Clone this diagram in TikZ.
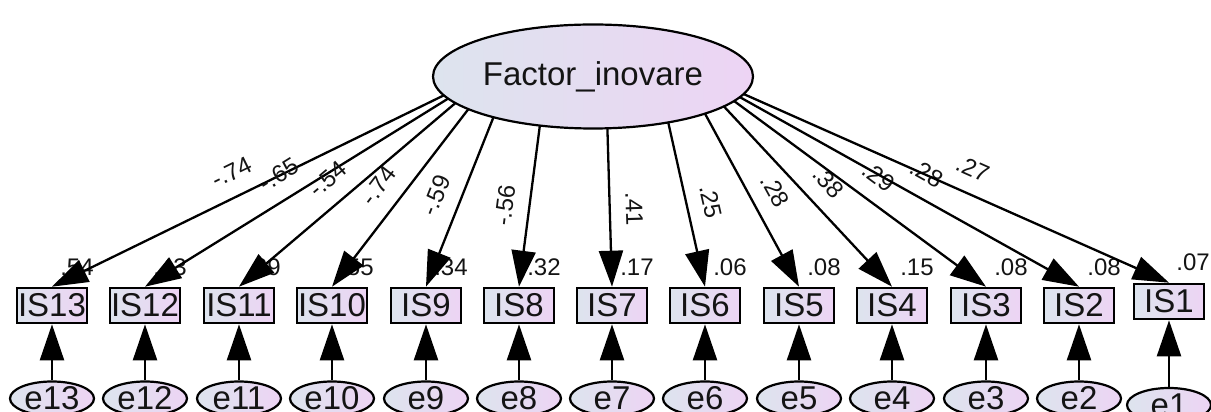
\documentclass[tikz,border=0pt]{standalone}
\usepackage{fontspec}
\setmainfont{Liberation Sans}
\usetikzlibrary{shapes.geometric,arrows.meta,calc}
\definecolor{gl}{RGB}{221,228,238}
\definecolor{gr}{RGB}{237,212,244}
\definecolor{txt}{RGB}{20,20,20}
\begin{document}
\begin{tikzpicture}[x=1pt,y=1pt,
  lat/.style={ellipse, draw=black, line width=2.2pt, left color=gl, right color=gr,
    minimum width=320pt, minimum height=104pt, inner sep=0pt,
    font=\fontsize{33}{33}\selectfont, text=txt},
  obs/.style={rectangle, draw=black, line width=2.6pt, left color=gl, right color=gr,
    minimum width=70pt, minimum height=35pt, inner sep=0pt,
    font=\fontsize{33}{33}\selectfont, text=txt},
  err/.style={ellipse, draw=black, line width=2.2pt, left color=gl, right color=gr,
    minimum width=84pt, minimum height=34pt, inner sep=0pt,
    font=\fontsize{33}{33}\selectfont, text=txt},
  conn/.style={line width=2.3pt, draw=black, -{Triangle[length=36pt,width=24pt]}},
  coef/.style={font=\fontsize{24}{24}\selectfont, text=txt, inner sep=0pt},
]
\useasboundingbox (0,0) rectangle (1211,412);

\node[lat] (F) at (593,335.5) {Factor\_inovare};

% observed variables, error terms, squared multiple correlations
\foreach \k/\x/\r in {13/52/.54, 12/145/.43, 11/239/.29, 10/332/.55, 9/426/.34,
    8/519/.32, 7/612/.17, 6/705/.06, 5/799/.08, 4/892/.15, 3/986/.08, 2/1079/.08}{
  \node[coef] (r\k) at (\x+25,145) {\r};
  \node[obs] (IS\k) at (\x,106.5) {IS\k};
  \node[err] (e\k) at (\x,13.5) {e\k};
}
\node[coef] (r1) at (1193,150) {.07};
\node[obs] (IS1) at (1169,110.5) {IS1};
\node[err] (e1) at (1169,7) {e1};

% error arrows
\foreach \k in {13,12,11,10,9,8,7,6,5,4,3,2,1}{
  \draw[conn] (e\k.north) -- (IS\k.south);
}

% loadings
\foreach \k/\lab in {13/-.74, 12/-.65, 11/-.54, 10/-.74, 9/-.59, 8/-.56, 7/.41,
    6/.25, 5/.28, 4/.38, 3/.29, 2/.28, 1/.27}{
  \draw[conn] let \p1=($(IS\k.north)-(F.center)$), \n1={atan2(\y1,\x1)} in
    ($(F.center)+(\n1:160pt and 52pt)$) -- (IS\k.north)
    node[coef, pos=0.515, sloped, above=15pt] {\lab};
}
\end{tikzpicture}
\end{document}
